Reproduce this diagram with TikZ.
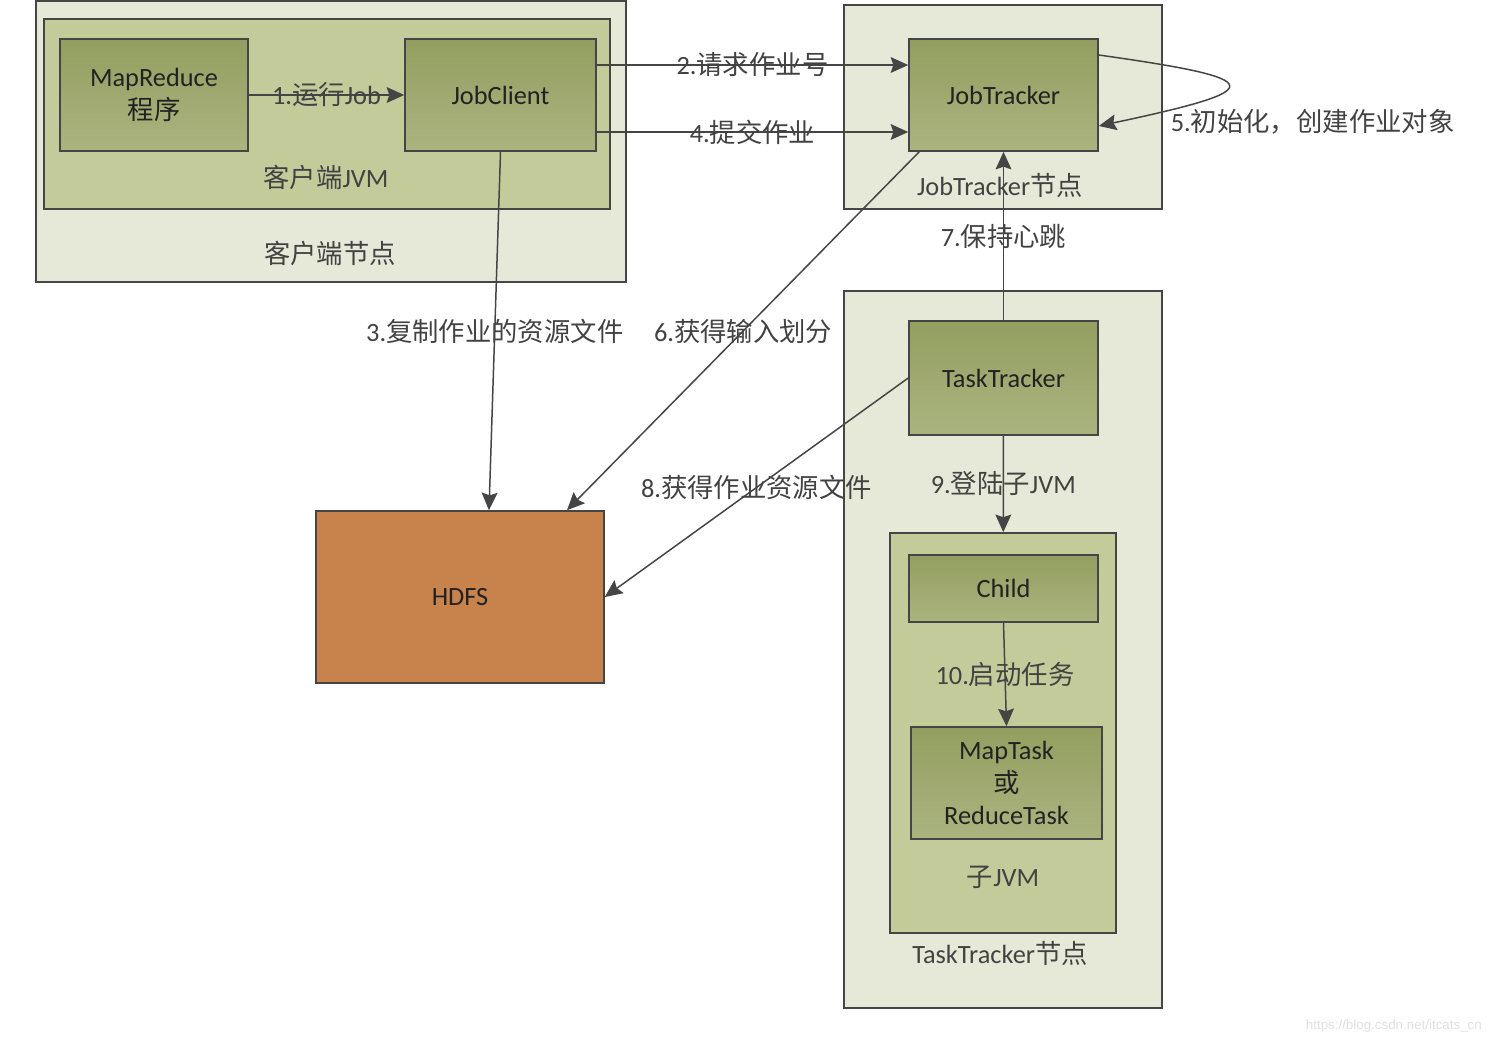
\documentclass[tikz,border=0pt]{standalone}
\usepackage{fontspec}
\setmainfont{Carlito}
\newfontfamily\cjk{Noto Sans CJK SC}
\newfontfamily\wmfont{Liberation Sans}
\newcommand{\zh}[1]{{\cjk #1}}
\usetikzlibrary{positioning,arrows.meta}
\definecolor{nodefill}{HTML}{E6E9D8}
\definecolor{jvmfill}{HTML}{C4CB9B}
\definecolor{olivetop}{HTML}{939E60}
\definecolor{olivebot}{HTML}{ABB47F}
\definecolor{hdfsfill}{HTML}{C8824C}
\definecolor{linegray}{HTML}{454545}
\definecolor{textdark}{HTML}{222222}
\definecolor{textgray}{HTML}{424242}

\begin{document}
\begin{tikzpicture}[x=0.02cm, y=-0.02cm, font=\fontsize{15}{18.7}\selectfont]
    % Estilos de bloques
    \tikzset{
        nodebox/.style={draw=linegray, line width=1pt, rectangle, fill=nodefill},
        jvmbox/.style={draw=linegray, line width=1pt, rectangle, fill=jvmfill},
        taskblock/.style={
            draw=linegray, line width=0.9pt, rectangle, top color=olivetop, bottom color=olivebot,
            minimum width=3.78cm, minimum height=2.24cm, align=center, text=textdark
        },
        hdfsblock/.style={draw=linegray, line width=0.9pt, rectangle, fill=hdfsfill, text=textdark},
        boxtext/.style={text=textgray, inner sep=1pt},
        steplabel/.style={midway, text=textgray, inner sep=1pt},
        flow/.style={-{Stealth[length=10pt, width=9pt, inset=1.5pt]}, draw=linegray, line width=0.85pt}
    }
    \useasboundingbox (0,0) rectangle (1496,1044);

    % Nodos contenedores
    \node[nodebox, minimum width=11.8cm, minimum height=5.62cm] (clientnode) at (331,141.5) {};
    \node[jvmbox, minimum width=11.32cm, minimum height=3.8cm] (clientjvm) at (327,114) {};
    \node[nodebox, minimum width=6.36cm, minimum height=4.08cm] (jtnode) at (1003,107) {};
    \node[nodebox, minimum width=6.36cm, minimum height=14.34cm] (ttnode) at (1003,649.5) {};
    \node[jvmbox, minimum width=4.52cm, minimum height=8cm] (childjvm) at (1003,733) {};

    \node[boxtext] (clientjvmlbl) at (326,177) {\zh{客户端}JVM};
    \node[boxtext] (clientnodelbl) at (330,253) {\zh{客户端节点}};
    \node[boxtext] (jtnodelbl) at (1000,185) {JobTracker\zh{节点}};
    \node[boxtext] (childjvmlbl) at (1003,877) {\zh{子}JVM};
    \node[boxtext] (ttnodelbl) at (1000,953) {TaskTracker\zh{节点}};

    % Bloques principales
    \node[taskblock, minimum width=3.76cm] (mapreduce) at (154,95) {MapReduce\\\zh{程序}};
    \node[taskblock, minimum width=3.82cm] (jobclient) at (500.5,95) {JobClient};
    \node[taskblock] (jobtracker) at (1003.5,95) {JobTracker};
    \node[taskblock, minimum height=2.28cm] (tasktracker) at (1003.5,378) {TaskTracker};
    \node[taskblock, minimum height=1.34cm] (child) at (1003.5,588.5) {Child};
    \node[taskblock, minimum width=3.82cm] (maptask) at (1006.5,783) {MapTask\\\zh{或}\\ReduceTask};
    \node[hdfsblock, minimum width=5.76cm, minimum height=3.44cm] (hdfs) at (460,597) {HDFS};

    % Conexiones
    \draw[flow] (mapreduce) -- (jobclient) node[steplabel] {1.\zh{运行}Job};
    \draw[flow] ([yshift=0.6cm]jobclient.east) -- ([yshift=0.6cm]jobtracker.west) node[steplabel] {2.\zh{请求作业号}};
    \draw[flow] (jobclient.south) -- ([xshift=0.58cm]hdfs.north) node[steplabel] {3.\zh{复制作业的资源文件}};
    \draw[flow] ([yshift=-0.74cm]jobclient.east) -- ([yshift=-0.74cm]jobtracker.west) node[steplabel] {4.\zh{提交作业}};
    \draw[flow] ([yshift=0.8cm]jobtracker.east) to[out=-8, in=12, distance=3.5cm] ([yshift=-0.62cm]jobtracker.east);
    \node[text=textgray, inner sep=1pt, right=1.4cm of jobtracker.east, yshift=-0.54cm] (initlbl) {5.\zh{初始化，创建作业对象}};
    \draw[flow] ([xshift=0.22cm]jobtracker.south west) -- ([xshift=2.14cm]hdfs.north) node[steplabel] {6.\zh{获得输入划分}};
    \draw[flow] (tasktracker) -- (jobtracker) node[steplabel] {7.\zh{保持心跳}};
    \draw[flow] (tasktracker.west) -- (hdfs.east) node[steplabel] {8.\zh{获得作业资源文件}};
    \draw[flow] (tasktracker) -- (childjvm) node[steplabel] {9.\zh{登陆子}JVM};
    \draw[flow] (child.south) -- (maptask.north) node[steplabel] {10.\zh{启动任务}};

    \node[text=black!12, anchor=east, font=\wmfont\fontsize{7.6}{9}\selectfont] (watermark) at (1488,1026) {https://blog.csdn.net/itcats\_cn};
\end{tikzpicture}
\end{document}
